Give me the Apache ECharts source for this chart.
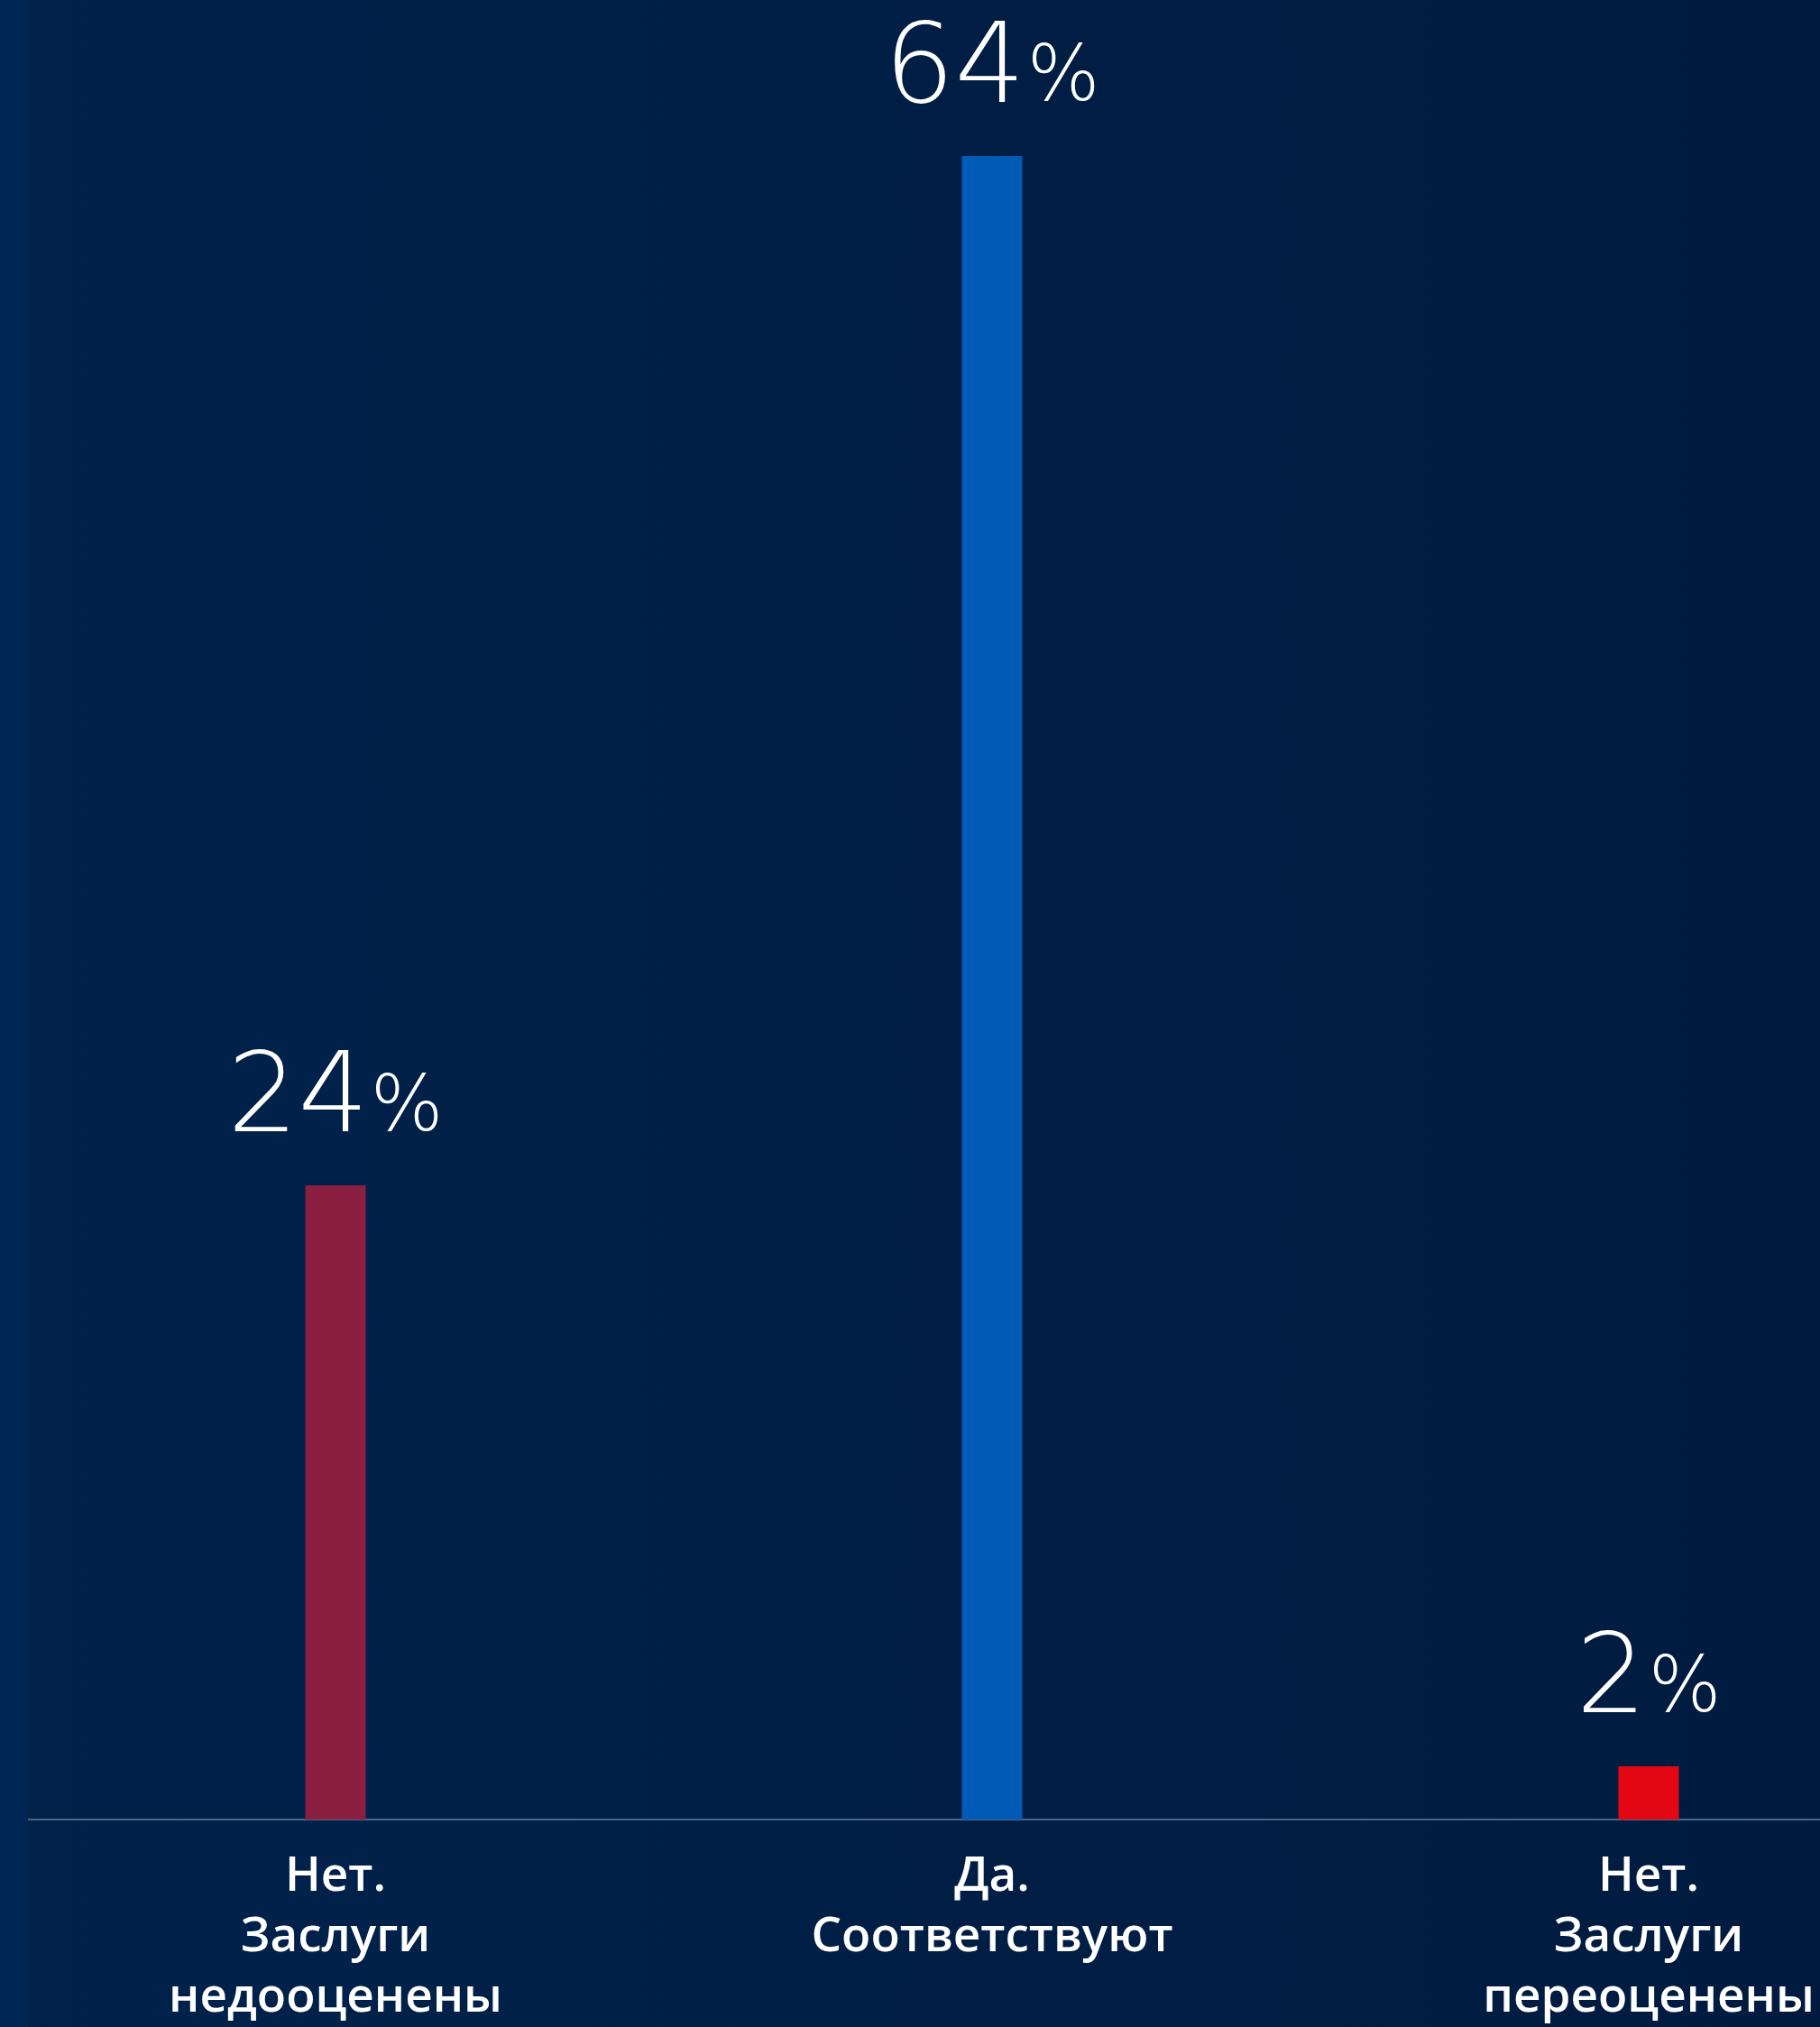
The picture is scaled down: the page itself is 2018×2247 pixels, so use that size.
<!DOCTYPE html>
<html>
<head>
<meta charset="utf-8">
<script src="https://cdn.jsdelivr.net/npm/echarts@6/dist/echarts.min.js"></script>
<style>
  html, body { margin: 0; padding: 0; }
  #chart { width: 2018px; height: 2247px; }
</style>
</head>
<body>
<div id="chart"></div>
<script>
const categories = ['Нет.\nЗаслуги\nнедооценены', 'Да.\nСоответствуют', 'Нет.\nЗаслуги\nпереоценены']
const values = [24.4, 64, 2.05]
const barColors = ['#8b1f41', '#005bb7', '#e30613']

const chart = echarts.init(document.getElementById('chart'))

chart.setOption({
  backgroundColor: {
    type: 'linear', x: 0, y: 0, x2: 1, y2: 0,
    colorStops: [
      { offset: 0, color: '#00224b' },
      { offset: 1, color: '#001b3f' }
    ]
  },
  // светлая полоса слева
  graphic: [{
    type: 'rect',
    left: 0, top: 0, z: 100,
    shape: { width: 31, height: 2247 },
    style: { fill: '#002753' }
  }],
  // сетка шире окна, чтобы шаг категорий совпал
  grid: { left: 8, width: 2184, top: 0, bottom: 230, outerBoundsMode: 'none' },
  xAxis: {
    type: 'category',
    data: categories,
    axisLine: { lineStyle: { color: '#4a6586', width: 2 } },
    axisTick: { show: false },
    axisLabel: {
      interval: 0,
      margin: 30,
      color: '#ffffff',
      fontFamily: 'Open Sans',
      fontWeight: 600,
      fontSize: 53,
      lineHeight: 67
    }
  },
  yAxis: {
    type: 'value',
    min: 0,
    max: 70,
    show: false,
    splitLine: { show: false }
  },
  series: [{
    type: 'bar',
    barWidth: 67,
    data: values.map((v, i) => ({ value: v, itemStyle: { color: barColors[i] } })),
    label: {
      show: true,
      position: 'top',
      distance: 30,
      formatter: p => '{n|' + Math.round(p.value) + '}{p|%}',
      rich: {
        n: {
          fontFamily: 'DejaVu Sans',
          fontWeight: 200,
          fontSize: 123,
          lineHeight: 124,
          verticalAlign: 'bottom',
          color: '#ffffff',
          padding: [0, 2, 0, 0]
        },
        p: {
          fontFamily: 'DejaVu Sans',
          fontWeight: 200,
          fontSize: 85,
          lineHeight: 100,
          verticalAlign: 'bottom',
          color: '#ffffff',
          padding: [0, 0, 11, 0]
        }
      }
    }
  }]
})
</script>
</body>
</html>
